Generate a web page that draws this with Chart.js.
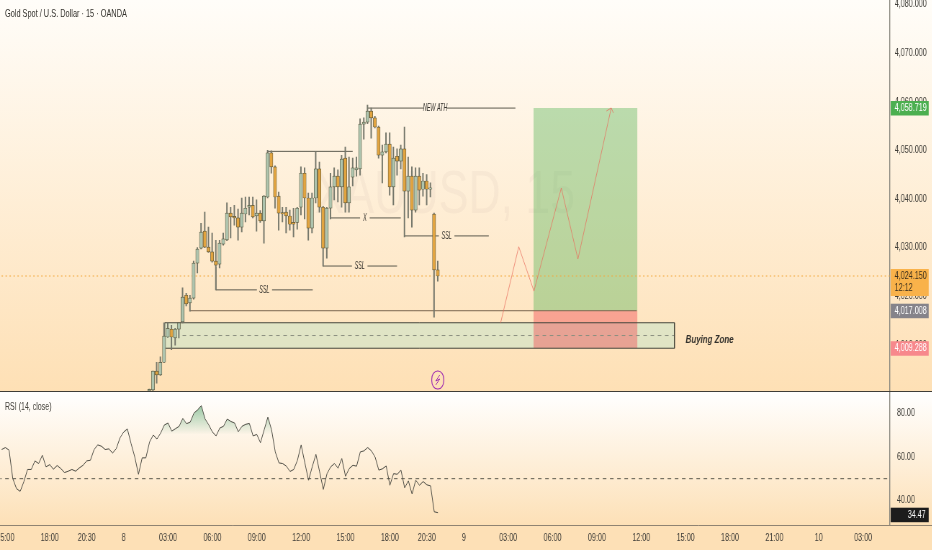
<!DOCTYPE html>
<html lang="en">
<head>
<meta charset="UTF-8">
<title>Gold Spot / U.S. Dollar</title>
<script src="https://cdn.jsdelivr.net/npm/chart.js"></script>
<style>
  html, body { margin: 0; padding: 0; background: #fff; }
  #page { position: relative; width: 932px; height: 550px; overflow: hidden; font-family: "Liberation Sans", sans-serif; }
  #pricePane { position: absolute; left: 0; top: 0; width: 932px; height: 391px; overflow: hidden; background: linear-gradient(#fffdf9, #fee0b5); }
  #rsiPane { position: absolute; left: 0; top: 391px; width: 932px; height: 159px; overflow: hidden; border-top: 1px solid #3f3d38; box-sizing: border-box; background: linear-gradient(#ffffff 0, #fde0b6 85%, #fde0b6 100%); }
  /* the picture is condensed sideways, canvases are drawn wide and squeezed */
  canvas { display: block; transform: scaleX(0.72); transform-origin: 0 0; }
  .squeezed { transform: scaleX(0.64); transform-origin: 0 0; white-space: nowrap; }
  #title { position: absolute; left: 5px; top: 7px; font-size: 11.5px; color: #33312c; }
  #rsiTitle { position: absolute; left: 5px; top: 400px; font-size: 11px; color: #44423c; }
</style>
</head>
<body>
<div id="page">
  <div id="pricePane"><canvas id="priceChart" width="1294" height="391"></canvas></div>
  <div id="rsiPane"><canvas id="rsiChart" width="1294" height="158"></canvas></div>
  <div id="title" class="squeezed">Gold Spot / U.S. Dollar · 15 · OANDA</div>
  <div id="rsiTitle" class="squeezed">RSI (14, close)</div>
</div>

<script>
// x axis is in bars, 12 bars = 3 hours
const firstBar = 39;
const opens = [4000.5,4000.7,4004.6,4003.8,4006.4,4011.6,4013.2,4011.4,4013.2,4014.7,4020.2,4018.6,4019.6,4026.8,4029.9,4033.4,4030.1,4029.1,4027.2,4026.6,4030.7,4031.6,4037.1,4036.3,4036.1,4034.2,4036.9,4038.3,4038.7,4036.5,4037.1,4035.5,4040.4,4049.5,4046.6,4040.6,4037.1,4037.3,4036.5,4035.2,4035.2,4038.3,4045.3,4040.2,4034.0,4040.2,4046.2,4038.3,4029.9,4038.1,4042.5,4044.7,4042.5,4048.4,4039.2,4044.5,4046.0,4046.2,4055.4,4055.8,4058.1,4056.7,4054.8,4049.0,4049.7,4051.3,4042.5,4048.8,4047.8,4050.3,4041.6,4044.7,4037.7,4044.7,4042.0,4043.7,4042.0,4036.9,4025.4];
const highs = [4000.9,4004.6,4006.4,4007.5,4014.5,4014.5,4014.0,4013.4,4014.5,4021.7,4020.6,4020.2,4027.2,4030.0,4035.0,4037.3,4034.2,4033.0,4031.5,4031.5,4033.0,4039.2,4038.3,4038.7,4037.9,4040.2,4040.4,4040.4,4040.4,4039.8,4037.6,4040.7,4050.0,4049.9,4046.8,4041.4,4038.3,4038.3,4037.7,4038.1,4038.3,4046.6,4046.4,4041.2,4041.2,4049.7,4047.6,4038.5,4038.3,4045.3,4046.4,4046.0,4049.0,4050.7,4048.6,4048.4,4048.6,4056.5,4056.7,4059.3,4058.7,4057.0,4055.0,4051.1,4053.6,4053.6,4050.7,4050.3,4051.1,4054.8,4048.6,4046.6,4046.4,4046.4,4045.3,4045.0,4043.3,4037.1,4027.2];
const lows = [4000.3,4000.4,4002.1,4003.7,4006.3,4011.5,4009.0,4009.9,4011.4,4014.5,4018.0,4016.9,4019.4,4024.8,4029.7,4030.0,4029.0,4027.0,4021.3,4025.8,4030.5,4031.4,4032.0,4034.6,4031.5,4033.2,4035.3,4036.7,4036.1,4033.4,4035.2,4030.9,4040.2,4045.3,4038.1,4033.6,4035.3,4033.0,4033.6,4032.2,4033.8,4036.7,4035.9,4031.5,4033.0,4039.2,4037.3,4026.2,4027.8,4035.9,4039.8,4039.4,4038.3,4037.3,4037.3,4042.7,4044.7,4044.9,4052.3,4055.5,4052.5,4054.6,4048.4,4043.3,4049.5,4040.8,4038.8,4044.9,4046.2,4032.2,4036.1,4034.2,4037.3,4038.8,4040.6,4038.8,4040.4,4015.7,4023.1];
const closes = [4000.7,4004.6,4003.8,4006.4,4011.8,4013.4,4011.6,4013.2,4014.5,4019.8,4018.4,4019.6,4026.8,4029.7,4033.2,4030.1,4029.1,4027.2,4026.4,4030.9,4031.8,4037.1,4036.3,4036.1,4034.2,4037.1,4038.1,4038.7,4036.3,4037.1,4035.5,4040.6,4049.5,4046.6,4040.4,4037.1,4036.9,4036.5,4034.8,4034.8,4038.1,4045.3,4040.2,4034.0,4040.2,4046.2,4038.3,4029.9,4038.1,4042.5,4044.7,4042.5,4048.2,4039.2,4042.5,4046.4,4046.4,4055.4,4055.8,4058.1,4056.7,4054.8,4049.0,4049.7,4051.3,4042.5,4048.4,4047.8,4050.3,4041.6,4044.7,4037.7,4044.7,4041.8,4043.7,4042.0,4042.1,4025.4,4024.15];

const firstRsiBar = -1;
const rsiValues = [63.3,64.2,63.0,50.1,45.5,44.2,48.6,54.2,54.2,58.1,56.9,60.7,55.4,56.4,54.3,56.0,54.6,52.8,53.4,54.2,53.4,54.9,56.1,58.1,58.4,63.3,65.4,64.8,63.3,63.6,61.7,63.7,68.6,71.3,72.7,66.0,59.9,52.0,59.5,59.5,66.7,69.9,68.1,70.8,74.5,75.4,71.7,72.8,73.9,77.5,75.1,75.8,79.9,81.4,83.3,77.3,74.6,71.3,69.5,73.1,73.9,77.2,76.1,75.4,71.4,73.9,74.8,75.2,69.5,70.2,66.4,72.3,78.1,72.3,62.2,57.2,56.9,55.7,53.3,54.2,58.4,65.4,57.2,49.3,55.4,61.1,53.1,45.1,52.3,55.4,56.9,54.8,59.2,51.1,54.6,56.1,55.7,62.2,62.7,64.2,62.7,59.9,53.9,54.5,55.8,47.0,52.3,52.0,53.9,45.8,49.0,43.0,49.3,47.0,48.7,47.2,46.7,34.9,34.47];

const timeTickBars = [0,12,22,32,44,56,68,80,92,104,114,124,136,148,160,172,184,196,208,220,232];
const timeTickLabels = ['15:00','18:00','20:30','8','03:00','06:00','09:00','12:00','15:00','18:00','20:30','9','03:00','06:00','09:00','12:00','15:00','18:00','21:00','10','03:00'];
const priceTicks = [4080,4070,4060,4050,4040,4030,4020,4010];
const rsiTicks = [80,60,40];

const lastPrice = 4024.15;
const targetPrice = 4058.719;
const entryPrice = 4017.008;
const stopPrice = 4009.288;
const zoneTop = 4014.53;
const zoneMid = 4011.9;

// [barFrom, priceFrom, barTo, priceTo]
const trendLines = [
  [98,4058.7,113.2,4058.7], [119.5,4058.7,138,4058.7],
  [71,4049.8,94,4049.8],
  [88,4036.1,96,4036.1], [98.6,4036.1,107,4036.1],
  [108,4032.4,117.3,4032.4], [121.5,4032.4,130.8,4032.4],
  [86,4026.2,93.8,4026.2], [98,4026.2,106,4026.2],
  [57,4026,57,4021.3], [57,4021.3,68.1,4021.3], [72.2,4021.3,83.2,4021.3]
];
const entryLineBars = [50,170.8];
const pathBars = [134,138.9,143,150.4,154.9,163.9];
const pathPrices = [4014.53,4030.17,4021.05,4042.25,4027.64,4058.72];
const arrowBars = [162.6,163.9,164.5];
const arrowPrices = [4058.1,4058.72,4057.7];
const boxBars = [142.9,171];
const zoneBars = [43.2,181];

const noteTexts = ['NEW ATH','X','SSL','SSL','SSL'];
const noteBars = [116.3,97.3,119.4,95.9,70.1];
const notePrices = [4058.7,4036.1,4032.4,4026.2,4021.3];

const tagValues = [targetPrice,entryPrice,stopPrice];
const tagColors = ['#4caf50','#85838a','#f7888c'];

const barsIdx = opens.map((_, i) => firstBar + i);
const isUp = opens.map((o, i) => closes[i] >= o);

const stretch = 1 / 0.72; // canvas px per screen px, sideways

function seg(a, b, c, d) { return [{x: a, y: b}, {x: c, y: d}]; }
function lineSet(data, color, extra) {
  return Object.assign({type: 'line', data, borderColor: color, borderWidth: 1, pointRadius: 0, tension: 0, fill: false, order: 5}, extra || {});
}
function fmt(v) { return v.toLocaleString('en-US', {minimumFractionDigits: 3, maximumFractionDigits: 3}); }

const axisFont = {family: '"Liberation Sans", sans-serif', size: 10};
const tickColor = '#3f3d38';

const overlayDraw = {
  id: 'overlayDraw',
  beforeDatasetsDraw(chart) {
    const {ctx, chartArea: a} = chart;
    ctx.save();
    ctx.fillStyle = 'rgba(110,105,90,0.05)';
    ctx.font = '62px "Liberation Sans"';
    ctx.textAlign = 'center';
    ctx.textBaseline = 'middle';
    ctx.fillText('XAUUSD, 15', (a.left + a.right) / 2, (a.top + a.bottom) / 2);
    ctx.restore();
  },
  afterDraw(chart) {
    const {ctx, chartArea: a, scales: {x, y}} = chart;
    ctx.save();
    // notes on the trend lines, narrower still than the rest
    ctx.fillStyle = '#33312c';
    ctx.font = 'italic 11px "Liberation Sans"';
    ctx.textAlign = 'center';
    ctx.textBaseline = 'middle';
    noteTexts.forEach((t, i) => {
      ctx.save();
      ctx.translate(x.getPixelForValue(noteBars[i]), y.getPixelForValue(notePrices[i]));
      ctx.scale(0.68, 1);
      ctx.fillText(t, 0, 0);
      ctx.restore();
    });
    ctx.font = 'italic bold 11px "Liberation Sans"';
    ctx.fillText('Buying Zone', x.getPixelForValue(zoneBars[1] + 9.5), y.getPixelForValue(stopPrice + 1.7));

    // flash marker under the last bar
    const mx = x.getPixelForValue(firstBar + opens.length - 1), my = a.bottom - 11;
    ctx.strokeStyle = '#9c27b0';
    ctx.lineWidth = 1.2;
    ctx.beginPath();
    ctx.roundRect(mx - 6 * stretch, my - 9, 12 * stretch, 18, 8);
    ctx.stroke();
    ctx.lineWidth = 1;
    ctx.beginPath();
    ctx.moveTo(mx + 2 * stretch, my - 5);
    ctx.lineTo(mx - 2 * stretch, my + 1);
    ctx.lineTo(mx + 2 * stretch, my - 1);
    ctx.lineTo(mx - 2 * stretch, my + 5);
    ctx.stroke();

    // price tags over the axis
    const tagLeft = a.right + stretch, tagWidth = 38 * stretch, textLeft = a.right + 5 * stretch;
    ctx.font = '10px "Liberation Sans"';
    ctx.textAlign = 'left';
    tagValues.forEach((v, i) => {
      const py = y.getPixelForValue(v);
      ctx.fillStyle = tagColors[i];
      ctx.fillRect(tagLeft, py - 7, tagWidth, 14.5);
      ctx.fillStyle = '#fff';
      ctx.fillText(fmt(v), textLeft, py + 0.5);
    });
    const py = y.getPixelForValue(lastPrice);
    ctx.fillStyle = '#f9b24a';
    ctx.fillRect(tagLeft, py - 7, tagWidth, 27);
    ctx.fillStyle = '#3a2f1d';
    ctx.fillText(fmt(lastPrice), textLeft, py);
    ctx.fillText('12:12', textLeft, py + 12);
    ctx.restore();
  }
};

const rsiDraw = {
  id: 'rsiDraw',
  afterDraw(chart) {
    const {ctx, chartArea: a, scales: {y}} = chart;
    const last = rsiValues[rsiValues.length - 1];
    const py = y.getPixelForValue(last) + 2;
    ctx.save();
    ctx.strokeStyle = '#8f8372';
    ctx.beginPath();
    ctx.moveTo(0, a.bottom + 0.5);
    ctx.lineTo(chart.width, a.bottom + 0.5);
    ctx.stroke();
    ctx.fillStyle = '#1c1c1c';
    ctx.fillRect(a.right + stretch, py - 7, 38 * stretch, 14.5);
    ctx.fillStyle = '#fff';
    ctx.font = '10px "Liberation Sans"';
    ctx.textAlign = 'right';
    ctx.textBaseline = 'middle';
    ctx.fillText(last.toFixed(2), a.right + 36 * stretch, py + 0.5);
    ctx.restore();
  }
};

const priceDatasets = [
  // target and stop boxes
  lineSet(seg(boxBars[0], targetPrice, boxBars[1], targetPrice), 'transparent', {borderWidth: 0, fill: {value: entryPrice}, backgroundColor: 'rgba(76,175,80,0.38)', order: 8}),
  lineSet(seg(boxBars[0], entryPrice, boxBars[1], entryPrice), 'transparent', {borderWidth: 0, fill: {value: stopPrice}, backgroundColor: 'rgba(242,54,69,0.38)', order: 7}),
  // buying zone
  lineSet(seg(zoneBars[0], zoneTop, zoneBars[1], zoneTop), 'transparent', {borderWidth: 0, fill: {value: stopPrice}, backgroundColor: 'rgba(170,230,210,0.35)', order: 9}),
  lineSet([{x: zoneBars[0], y: zoneTop}, {x: zoneBars[1], y: zoneTop}, {x: zoneBars[1], y: stopPrice}, {x: zoneBars[0], y: stopPrice}, {x: zoneBars[0], y: zoneTop}], '#46463c'),
  lineSet(seg(48, zoneMid, zoneBars[1], zoneMid), '#8b8f80', {borderDash: [5, 5]}),
  lineSet(seg(entryLineBars[0], entryPrice, entryLineBars[1], entryPrice), '#7a6650'),
  // current price
  lineSet(seg(-2, lastPrice, 240, lastPrice), '#f2a73b', {borderDash: [2, 3.5], order: 6}),
  // candles
  {type: 'bar', data: barsIdx.map((b, i) => ({x: b, y: [lows[i], highs[i]]})), barThickness: 1.3, backgroundColor: '#74766a', grouped: false, order: 4},
  {type: 'bar', data: barsIdx.map((b, i) => ({x: b, y: [opens[i], closes[i]]})), barThickness: 4.4, minBarLength: 1.5, grouped: false, order: 3,
    backgroundColor: isUp.map(u => u ? '#aec4ae' : '#e2a440'), borderColor: '#55533a', borderWidth: 0.7, borderSkipped: false},
  // projected path
  lineSet(pathBars.map((b, i) => ({x: b, y: pathPrices[i]})), 'rgba(232,105,90,0.7)', {order: 2}),
  lineSet(arrowBars.map((b, i) => ({x: b, y: arrowPrices[i]})), 'rgba(232,105,90,0.7)', {order: 2})
];
trendLines.forEach(t => priceDatasets.push(lineSet(seg(t[0], t[1], t[2], t[3]), '#5c5a4e')));

new Chart(document.getElementById('priceChart'), {
  type: 'bar',
  data: {datasets: priceDatasets},
  options: {
    responsive: false,
    animation: false,
    layout: {padding: 0},
    plugins: {legend: {display: false}, tooltip: {enabled: false}},
    scales: {
      x: {type: 'linear', display: false, min: -1.35, max: 239.19, offset: false, grid: {display: false}},
      y: {
        position: 'right', min: 4000.49, max: 4080.94,
        grid: {display: false, drawTicks: false},
        border: {display: true, color: '#8c8a80', width: 1.4},
        afterFit(s) { s.width = 42 * stretch; s.paddingTop = 0; s.paddingBottom = 0; },
        afterBuildTicks(s) { s.ticks = priceTicks.map(v => ({value: v})); },
        ticks: {color: tickColor, font: axisFont, padding: 7, autoSkip: false, callback: fmt}
      }
    }
  },
  plugins: [overlayDraw]
});

const rsiChart = new Chart(document.getElementById('rsiChart'), {
  type: 'line',
  data: {datasets: [
    lineSet(rsiValues.map((v, i) => ({x: firstRsiBar + i, y: v})), '#4d4c44', {
      fill: {target: {value: 70}, above: 'transparent', below: 'transparent'}, order: 1
    }),
    lineSet(seg(-2, 50, 240, 50), '#5c5a4e', {borderDash: [5, 5], order: 2})
  ]},
  options: {
    responsive: false,
    animation: false,
    layout: {padding: 0},
    plugins: {legend: {display: false}, tooltip: {enabled: false}},
    scales: {
      x: {
        type: 'linear', min: -1.35, max: 239.19, offset: false,
        grid: {display: false, drawTicks: false},
        border: {display: false},
        afterFit(s) { s.height = 25; s.paddingLeft = 0; s.paddingRight = 0; },
        afterBuildTicks(s) { s.ticks = timeTickBars.map(v => ({value: v})); },
        ticks: {
          color: tickColor, font: axisFont, padding: 7, maxRotation: 0, autoSkip: false,
          callback: v => timeTickLabels[timeTickBars.indexOf(v)]
        }
      },
      y: {
        position: 'right', min: 28.86, max: 89.32,
        grid: {display: false, drawTicks: false},
        border: {display: true, color: '#8c8a80', width: 1.4},
        afterFit(s) { s.width = 42 * stretch; s.paddingTop = 0; s.paddingBottom = 0; },
        afterBuildTicks(s) { s.ticks = rsiTicks.map(v => ({value: v})); },
        ticks: {color: tickColor, font: axisFont, padding: 10, autoSkip: false, callback: v => v.toFixed(2)}
      }
    }
  },
  plugins: [rsiDraw]
});

// overbought shading fades out towards the 70 level
const rsiY = rsiChart.scales.y;
const fade = rsiChart.ctx.createLinearGradient(0, rsiY.getPixelForValue(83), 0, rsiY.getPixelForValue(70));
fade.addColorStop(0, 'rgba(76,160,100,0.55)');
fade.addColorStop(1, 'rgba(76,160,100,0)');
rsiChart.data.datasets[0].fill.above = fade;
rsiChart.update();
</script>
</body>
</html>
